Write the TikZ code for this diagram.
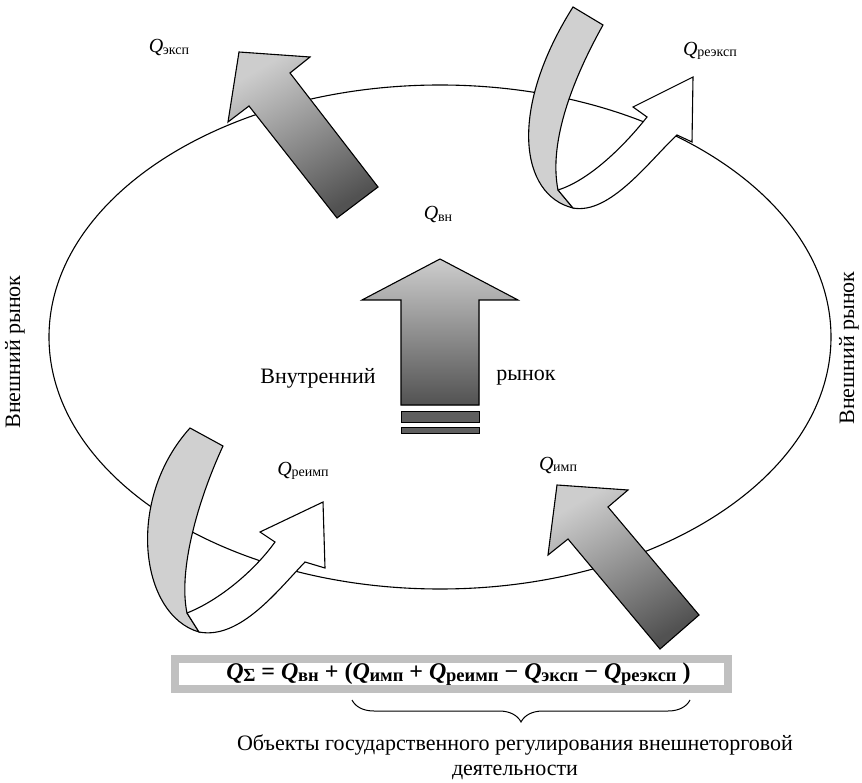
\documentclass[tikz,border=0pt]{standalone}
\usepackage{fontspec}
\setmainfont{Liberation Serif}
\usetikzlibrary{decorations.pathreplacing}
\definecolor{lightg}{RGB}{205,205,205}
\definecolor{darkg}{RGB}{82,82,82}
\definecolor{ribbong}{RGB}{208,208,208}
\definecolor{boxg}{RGB}{192,192,192}
\definecolor{barg}{RGB}{95,95,95}
\newcommand\Qlab[1]{\textit{Q}\kern-0.3pt\raisebox{-1.5pt}{\fontsize{14}{14}\selectfont #1}}
\newcommand\Qf[1]{\textit{Q}\kern-0.3pt\raisebox{-2pt}{\fontsize{18.5}{18.5}\selectfont #1}}
\begin{document}
\begin{tikzpicture}[x=1pt,y=-1pt,line join=miter,
  outl/.style={draw=black,line width=1.1pt},
  bigarrow/.style={outl,top color=lightg,bottom color=darkg},
  ribbonback/.style={outl,fill=ribbong},
  ribbonfront/.style={outl,fill=white},
  barbox/.style={draw=black,line width=0.9pt,fill=barg},
  lbl/.style={font=\fontsize{22}{25}\selectfont,inner sep=0pt},
  qlbl/.style={font=\fontsize{20}{22}\selectfont,inner sep=0pt}]
\useasboundingbox (0,0) rectangle (862,783);

% market ellipse
\draw[line width=1.1pt] (440,337) ellipse [x radius=391, y radius=252];

% export arrow
\filldraw[bigarrow,shading angle=30] (239,52) -- (310,57) -- (290,73) -- (378,187) -- (337,218) -- (249,106) -- (228,122) -- cycle;
% import arrow
\filldraw[bigarrow,shading angle=30] (557,485) -- (628,490) -- (608,507) -- (699,615) -- (660,649) -- (568,539) -- (548,555) -- cycle;

% central arrow
\filldraw[bigarrow] (440,259) -- (518,300) -- (479,300) -- (479,405) -- (401,405) -- (401,300) -- (362,300) -- cycle;
\filldraw[barbox] (401,411) rectangle (479,422);
\filldraw[barbox] (401,427) rectangle (479,433);

% re-export ribbon
\filldraw[ribbonback] (573,7) -- (603,25) .. controls (575,75) and (548,140) .. (558,190) -- (573,208) .. controls (520,195) and (508,110) .. cycle;
\filldraw[ribbonfront] (558,190) .. controls (590,180) and (625,145) .. (647,117) -- (633,107) -- (693,77) -- (692,142) -- (677,135) .. controls (650,160) and (610,215) .. (573,208) -- cycle;

% re-import ribbon
\filldraw[ribbonback] (190,428) -- (223,446) .. controls (198,500) and (178,570) .. (187,613) -- (199,632) .. controls (140,615) and (125,500) .. cycle;
\filldraw[ribbonfront] (187,613) .. controls (220,600) and (255,570) .. (275,542) -- (260,532) -- (323,502) -- (325,568) -- (305,562) .. controls (278,590) and (240,640) .. (199,632) -- cycle;

% labels
\node[qlbl] (qexp) at (169,48) {\Qlab{эксп}};
\node[qlbl] (qreexp) at (710,51) {\Qlab{реэксп}};
\node[qlbl] (qvn) at (438,215) {\Qlab{вн}};
\node[qlbl] (qreimp) at (303,471) {\Qlab{реимп}};
\node[qlbl] (qimp) at (558,465) {\Qlab{имп}};
\node[lbl] (vnutr) at (318,378) {Внутренний};
\node[lbl] (rynok) at (526,378) {рынок};
\node[lbl,rotate=90] (extl) at (15,352) {Внешний рынок};
\node[lbl,rotate=90] (extr) at (849,348) {Внешний рынок};

% formula box
\node[draw=boxg,line width=8.5pt,fill=white,minimum width=553pt,minimum height=30pt,inner sep=0pt,
  font=\fontsize{24}{24}\selectfont\bfseries] (formula) at (451.5,674)
  {\hspace*{14pt}\Qf{Σ} = \Qf{вн} + (\Qf{имп} + \Qf{реимп} − \Qf{эксп} − \Qf{реэксп}\ )};

\coordinate (bl) at (352,700);
\coordinate (br) at (690,700);
\draw[line width=1pt,decorate,decoration={brace,mirror,amplitude=22pt}] (bl) -- (br);

\node[lbl,align=center] (objects) at (515,757) {Объекты государственного регулирования внешнеторговой\\деятельности};
\end{tikzpicture}
\end{document}
